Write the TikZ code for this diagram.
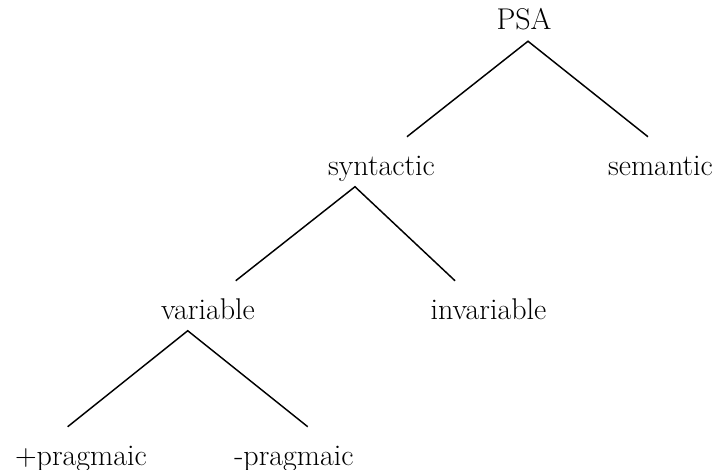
\documentclass[tikz,border=0pt]{standalone}
\usepackage{xcolor}
\usepackage{tikz}

\begin{document}
\begin{tikzpicture}[x = 0.75pt, y = -0.75pt, Node/.style = {inner sep = 0pt, text height = 28.5pt, text depth = 8.6pt, anchor = base, font = \fontsize{22.5}{27}\selectfont}, Edge/.style = {draw = black, line width = 1.1pt}]
        \useasboundingbox (0,0) rectangle (722,469);
        \node [Node] (1) at (524,29.5) {PSA};
        \node [Node] (2) at (381.5,175) {syntactic};
        \node [Node] (3) at (660.5,175) {semantic};
        \node [Node] (4) at (208,319) {variable};
        \node [Node] (5) at (488.5,319) {invariable};
        \node [Node] (6) at (81,465) {+pragmaic};
        \node [Node] (7) at (294,465) {-pragmaic};
        \draw [Edge] ([xshift = 19.1pt]2.north) -- ([xshift = 3pt]1.south) -- ([xshift = -9.4pt]3.north);
        \draw [Edge] ([xshift = 20.8pt]4.north) -- ([xshift = -19.9pt]2.south) -- ([xshift = -25.1pt]5.north);
        \draw [Edge] ([xshift = -10pt]6.north) -- ([xshift = -15.2pt]4.south) -- ([xshift = 10.3pt]7.north);
    \end{tikzpicture}
\end{document}
